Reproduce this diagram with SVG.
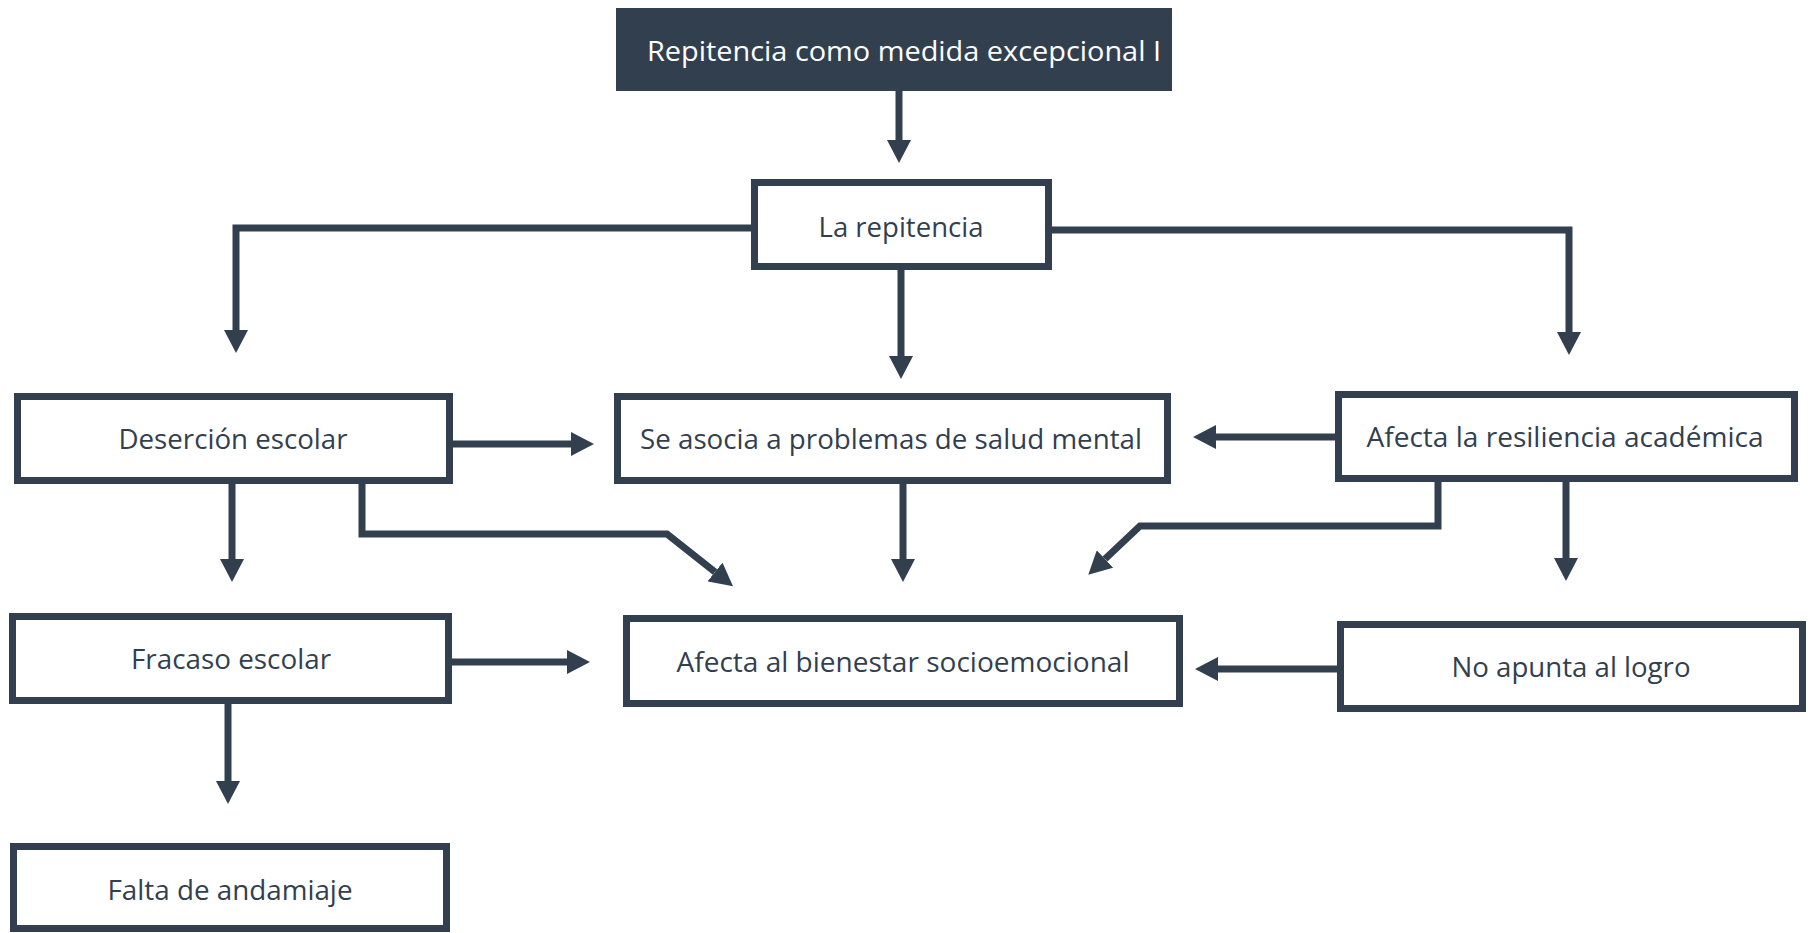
<svg xmlns="http://www.w3.org/2000/svg" width="1811" height="933" viewBox="0 0 1811 933">
<style>
.box{fill:#ffffff;stroke:#323F4F;stroke-width:7}
.lbl{font-family:"Open Sans","Noto Sans",sans-serif;font-size:28px;fill:#323F4F;text-anchor:middle}
.lblw{font-family:"Open Sans","Noto Sans",sans-serif;font-size:28px;fill:#ffffff;text-anchor:middle}
.con{fill:none;stroke:#323F4F;stroke-width:7;stroke-linejoin:miter}
</style>
<defs>
<marker id="ah" markerUnits="userSpaceOnUse" markerWidth="23" markerHeight="24" viewBox="0 0 23 24" refX="0" refY="12" orient="auto">
<path d="M0,0 L23,12 L0,24 z" fill="#323F4F"/>
</marker>
</defs>
<rect width="1811" height="933" fill="#ffffff"/>
<g id="connectors">
<path class="con" d="M899,91 V140" marker-end="url(#ah)"/>
<path class="con" d="M752,228 H236 V330" marker-end="url(#ah)"/>
<path class="con" d="M1050,230 H1569 V332" marker-end="url(#ah)"/>
<path class="con" d="M901,270 V356" marker-end="url(#ah)"/>
<path class="con" d="M453,444 H571" marker-end="url(#ah)"/>
<path class="con" d="M1335,437 H1216" marker-end="url(#ah)"/>
<path class="con" d="M232,484 V559" marker-end="url(#ah)"/>
<path class="con" d="M362,484 V534 H667 L715,572" marker-end="url(#ah)"/>
<path class="con" d="M903,484 V559" marker-end="url(#ah)"/>
<path class="con" d="M1438,482 V526 H1140 L1105,559" marker-end="url(#ah)"/>
<path class="con" d="M1566,482 V558" marker-end="url(#ah)"/>
<path class="con" d="M452,662 H567" marker-end="url(#ah)"/>
<path class="con" d="M1337,669 H1218" marker-end="url(#ah)"/>
<path class="con" d="M228,704 V781" marker-end="url(#ah)"/>
</g>
<g id="n-top">
<rect x="616" y="8" width="556" height="83" fill="#323F4F"/>
<text class="lblw" x="904" y="61" textLength="514" lengthAdjust="spacingAndGlyphs">Repitencia como medida excepcional I</text>
</g>
<g id="n-repitencia">
<rect class="box" x="754.5" y="182.5" width="294" height="84"/>
<text class="lbl" x="901" y="237" textLength="165" lengthAdjust="spacingAndGlyphs">La repitencia</text>
</g>
<g id="n-desercion">
<rect class="box" x="17.5" y="396.5" width="432" height="84"/>
<text class="lbl" x="233" y="449" textLength="229" lengthAdjust="spacingAndGlyphs">Deserción escolar</text>
</g>
<g id="n-salud">
<rect class="box" x="617.5" y="396.5" width="550" height="84"/>
<text class="lbl" x="891" y="449" textLength="502" lengthAdjust="spacingAndGlyphs">Se asocia a problemas de salud mental</text>
</g>
<g id="n-resiliencia">
<rect class="box" x="1338.5" y="394.5" width="456" height="84"/>
<text class="lbl" x="1565" y="447" textLength="397" lengthAdjust="spacingAndGlyphs">Afecta la resiliencia académica</text>
</g>
<g id="n-fracaso">
<rect class="box" x="12.5" y="616.5" width="436" height="84"/>
<text class="lbl" x="231" y="669" textLength="200" lengthAdjust="spacingAndGlyphs">Fracaso escolar</text>
</g>
<g id="n-bienestar">
<rect class="box" x="626.5" y="618.5" width="553" height="85"/>
<text class="lbl" x="903" y="672" textLength="453" lengthAdjust="spacingAndGlyphs">Afecta al bienestar socioemocional</text>
</g>
<g id="n-logro">
<rect class="box" x="1340.5" y="624.5" width="462" height="84"/>
<text class="lbl" x="1571" y="677" textLength="239" lengthAdjust="spacingAndGlyphs">No apunta al logro</text>
</g>
<g id="n-andamiaje">
<rect class="box" x="13.5" y="846.5" width="433" height="82"/>
<text class="lbl" x="230" y="900" textLength="245" lengthAdjust="spacingAndGlyphs">Falta de andamiaje</text>
</g>
</svg>
